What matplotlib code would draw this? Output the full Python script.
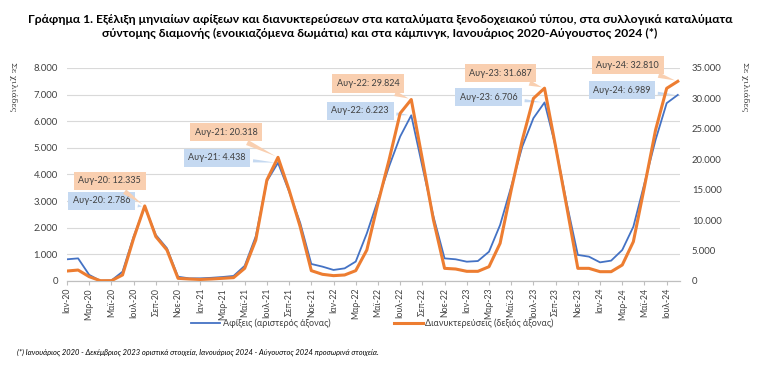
import numpy as np
import matplotlib
matplotlib.use("Agg")
import matplotlib.pyplot as plt
from matplotlib.ticker import FuncFormatter, MultipleLocator

plt.rcParams['font.family'] = ['Lato', 'DejaVu Sans']

# data (thousands) Jan-2020 .. Aug-2024
month_names = ["Ιαν", "Φεβ", "Μαρ", "Απρ", "Μαϊ", "Ιουν", "Ιουλ", "Αυγ", "Σεπ", "Οκτ", "Νοε", "Δεκ"]
years = [20, 21, 22, 23, 24]

arrivals = [
    815, 850, 230, 10, 20, 350, 1670, 2786, 1730, 1230, 160, 100,
    100, 120, 150, 190, 570, 1680, 3750, 4438, 3360, 2180, 640, 540,
    415, 475, 730, 1790, 3045, 4300, 5425, 6223, 4300, 2420, 850, 815,
    725, 750, 1100, 2105, 3545, 5050, 6115, 6706, 5050, 2920, 980, 915,
    700, 765, 1165, 2040, 3670, 5300, 6680, 6989,
]
nights = [
    1640, 1800, 710, 50, 50, 990, 7010, 12335, 7290, 5090, 440, 330,
    250, 330, 440, 550, 2080, 6740, 16600, 20318, 14950, 8900, 1700, 1100,
    880, 990, 1700, 5100, 12770, 19880, 27560, 29824, 20000, 10020, 2080, 1970,
    1590, 1590, 2350, 6190, 14950, 23170, 30000, 31687, 22070, 12210, 2080, 2080,
    1530, 1530, 2630, 6460, 15500, 24810, 31660, 32810,
]
labels = [f"{m}-{y}" for y in years for m in month_names][:len(arrivals)]
peak_idx = [7, 19, 31, 43, 55]

# callout offsets in pixels (dx, dy up) for each peak
blue_off = [(-43, 6), (-61, 5), (-51, 4.5), (-56, 5), (-56, 4.5)]
orange_off = [(-35, 25), (-52, 25), (-43, 16), (-44, 15), (-50, 16)]

def thousands(v, pos=None):
    return f"{int(v):,}".replace(",", ".")

blue = '#4472C4'
orange = '#ED7D31'
txt = '#404040'
px = 0.72  # points per pixel at dpi 100

fig = plt.figure(figsize=(7.6, 3.76), dpi=100)
ax = fig.add_axes([67/760, 95/376, 613/760, 213/376])
ax2 = ax.twinx()

x = np.arange(len(arrivals))
ax.plot(x, arrivals, color=blue, lw=1.3, label='Αφίξεις (αριστερός άξονας)', zorder=3)
ax2.plot(x, nights, color=orange, lw=2.2, label='Διανυκτερεύσεις (δεξιός άξονας)', zorder=4)

ax.set_xlim(0, 55.2)
ax.set_ylim(0, 8000)
ax2.set_ylim(0, 35000)
ax.yaxis.set_major_locator(MultipleLocator(1000))
ax2.yaxis.set_major_locator(MultipleLocator(5000))
ax.yaxis.set_major_formatter(FuncFormatter(thousands))
ax2.yaxis.set_major_formatter(FuncFormatter(thousands))
ax.grid(axis='y', color='#d9d9d9', lw=0.8)
ax.set_axisbelow(True)

ax.set_xticks(x[::2])
ax.set_xticklabels(labels[::2], rotation=90, fontsize=6.3, color=txt)
ax.tick_params(axis='x', direction='out', length=3, color='#bfbfbf', pad=2)
ax.tick_params(axis='y', length=0, labelsize=6.8, labelcolor=txt, pad=6.5)
ax2.tick_params(axis='y', length=0, labelsize=6.8, labelcolor=txt, pad=8.5)
for a in (ax, ax2):
    for s in ('top', 'left', 'right'):
        a.spines[s].set_visible(False)
    a.spines['bottom'].set_color('#bfbfbf')

# data callouts
for k, i in enumerate(peak_idx):
    bx, by = blue_off[k]
    ox, oy = orange_off[k]
    ax.annotate(f"{labels[i]}: {thousands(arrivals[i])}", xy=(x[i], arrivals[i]),
                xytext=(bx * px, by * px), textcoords='offset points', ha='center', va='center',
                fontsize=6.5, color=txt, zorder=5,
                bbox=dict(boxstyle='square,pad=0.5', fc='#C5D9F1', ec='none'),
                arrowprops=dict(arrowstyle='wedge,tail_width=0.35,shrink_factor=0.5',
                                fc='#C5D9F1', ec='none'))
    ax2.annotate(f"{labels[i]}: {thousands(nights[i])}", xy=(x[i], nights[i]),
                 xytext=(ox * px, oy * px), textcoords='offset points', ha='center', va='center',
                 fontsize=6.5, color=txt, zorder=6,
                 bbox=dict(boxstyle='square,pad=0.5', fc='#F9CFB0', ec='none'),
                 arrowprops=dict(arrowstyle='wedge,tail_width=0.6,shrink_factor=0.5',
                                 fc='#F9CFB0', ec='none'))

h1, l1 = ax.get_legend_handles_labels()
h2, l2 = ax2.get_legend_handles_labels()
fig.legend(h1 + h2, l1 + l2, loc='center', bbox_to_anchor=(0.49, 0.141), ncol=2,
           frameon=False, fontsize=6.5, handlelength=3.2, handletextpad=0.3,
           columnspacing=7, labelcolor=txt)

fig.text(0.5, 0.962, "Γράφημα 1. Εξέλιξη μηνιαίων αφίξεων και διανυκτερεύσεων στα καταλύματα ξενοδοχειακού τύπου, στα συλλογικά καταλύματα\n"
         "σύντομης διαμονής (ενοικιαζόμενα δωμάτια) και στα κάμπινγκ, Ιανουάριος 2020-Αύγουστος 2024 (*)",
         ha='center', va='top', fontsize=8.7, fontweight='bold', linespacing=1.3)
for xf in (13/760, 745/760):
    fig.text(xf, 0.835, "Σε χιλιάδες", rotation=270, ha='center', va='top',
             fontsize=6, family='DejaVu Serif', color=txt)
fig.text(17/760, 0.062, "(*) Ιανουάριος 2020 - Δεκέμβριος 2023 οριστικά στοιχεία, Ιανουάριος 2024 - Αύγουστος 2024 προσωρινά στοιχεία.",
         ha='left', va='center', fontsize=5.4, style='italic')

fig.savefig('out.png', dpi=100)
